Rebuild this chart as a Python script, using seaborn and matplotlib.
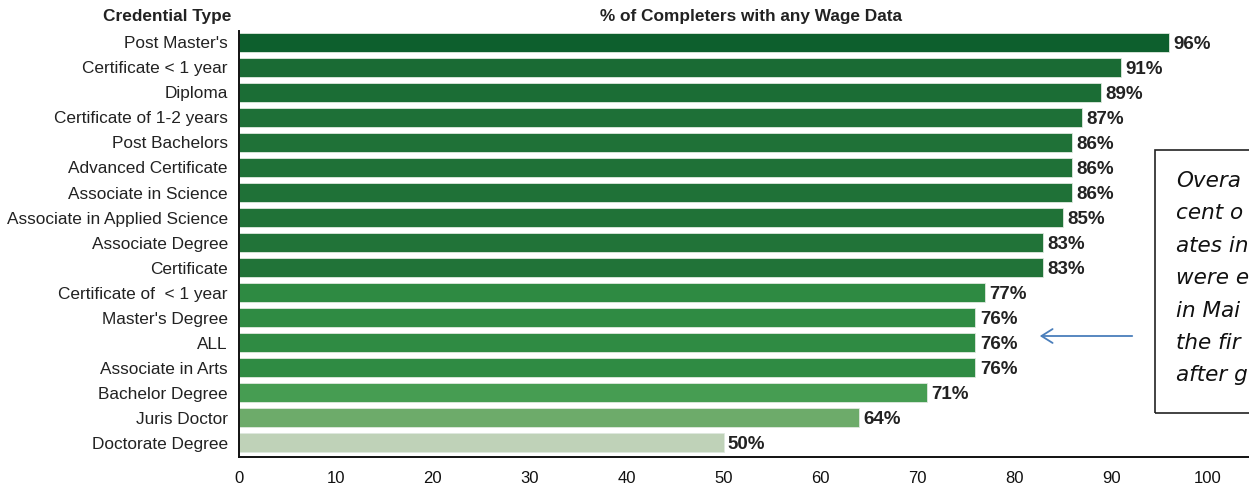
import matplotlib
matplotlib.use("Agg")
import matplotlib.pyplot as plt
import seaborn as sns
import pandas as pd
from matplotlib.patches import Rectangle, FancyArrowPatch

categories = ["Post Master's", "Certificate < 1 year", "Diploma", "Certificate of 1-2 years",
              "Post Bachelors", "Advanced Certificate", "Associate in Science",
              "Associate in Applied Science", "Associate Degree", "Certificate",
              "Certificate of  < 1 year", "Master's Degree", "ALL", "Associate in Arts",
              "Bachelor Degree", "Juris Doctor", "Doctorate Degree"]
values = [96, 91, 89, 87, 86, 86, 86, 85, 83, 83, 77, 76, 76, 76, 71, 64, 50]
x_ticks = [0, 10, 20, 30, 40, 50, 60, 70, 80, 90, 100]
note_lines = ["Overa", "cent o", "ates in", "were e", "in Mai", "the fir", "after g"]

bar_colors = ["#0d5f2d", "#1a6b34", "#1b6d35", "#1e7037", "#1f7137", "#1f7137", "#1f7137",
              "#207237", "#217338", "#217338", "#2e8a42", "#2f8b43", "#2f8b43", "#2f8b43",
              "#469d52", "#6dab6a", "#bfd2b8"]

sns.set_theme(style="white")
plt.rcParams['font.family'] = ['Liberation Sans', 'DejaVu Sans']

df = pd.DataFrame({"cat": categories, "val": values})

fig = plt.figure(figsize=(12.49, 4.87), dpi=100)
ax = fig.add_axes([239/1249, 1 - 457/487, 1 - 239/1249, (457 - 31)/487])

sns.barplot(data=df, x="val", y="cat", hue="cat", palette=bar_colors, legend=False,
            saturation=1, orient="h", width=0.76, ax=ax, edgecolor="#dfe9df", linewidth=0.6)

ax.set_xlim(0, (1249 - 239) / 9.69)
ax.set_ylim(len(categories) - 1 + 0.56, -0.45)
ax.set_xticks(x_ticks)
ax.set_xticklabels([str(t) for t in x_ticks], fontsize=12, color="#111111")
ax.tick_params(axis="x", length=0, pad=10)
ax.tick_params(axis="y", length=0, pad=8)
for lbl in ax.get_yticklabels():
    lbl.set_fontsize(12.4)
    lbl.set_color("#222222")
ax.set_xlabel("")
ax.set_ylabel("")
for s in ["top", "right"]:
    ax.spines[s].set_visible(False)
for s in ["left", "bottom"]:
    ax.spines[s].set_color("#111111")
    ax.spines[s].set_linewidth(1.4)

for i, v in enumerate(values):
    ax.text(v + 0.45, i + 0.07, f"{v}%", va="center", ha="left", fontsize=13.5,
            fontweight="bold", color="#222222")

fig.text(231/1249, 1 - 17/487, "Credential Type", ha="right", va="center",
         fontsize=12.4, fontweight="bold", color="#222222")
fig.text(751/1249, 1 - 17/487, "% of Completers with any Wage Data", ha="center",
         va="center", fontsize=12.4, fontweight="bold", color="#222222")

# annotation box (cropped at the figure's right edge)
box = Rectangle((1155/1249, 1 - 413/487), 0.2, (413 - 150)/487, transform=fig.transFigure,
                fill=False, edgecolor="#222222", linewidth=1.2, clip_on=False)
fig.patches.append(box)
for k, line in enumerate(note_lines):
    fig.text(1176/1249, 1 - (181 + k * 32.4)/487, line, ha="left", va="center",
             fontsize=15.5, style="oblique", family="DejaVu Sans", color="#111111")

arrow = FancyArrowPatch((1135/1249, 1 - 336/487), (1037/1249, 1 - 336/487),
                        transform=fig.transFigure, arrowstyle="->,head_length=8,head_width=5",
                        color="#4a7ebb", linewidth=1.3, mutation_scale=1)
fig.patches.append(arrow)

fig.savefig("out.png", dpi=100)
